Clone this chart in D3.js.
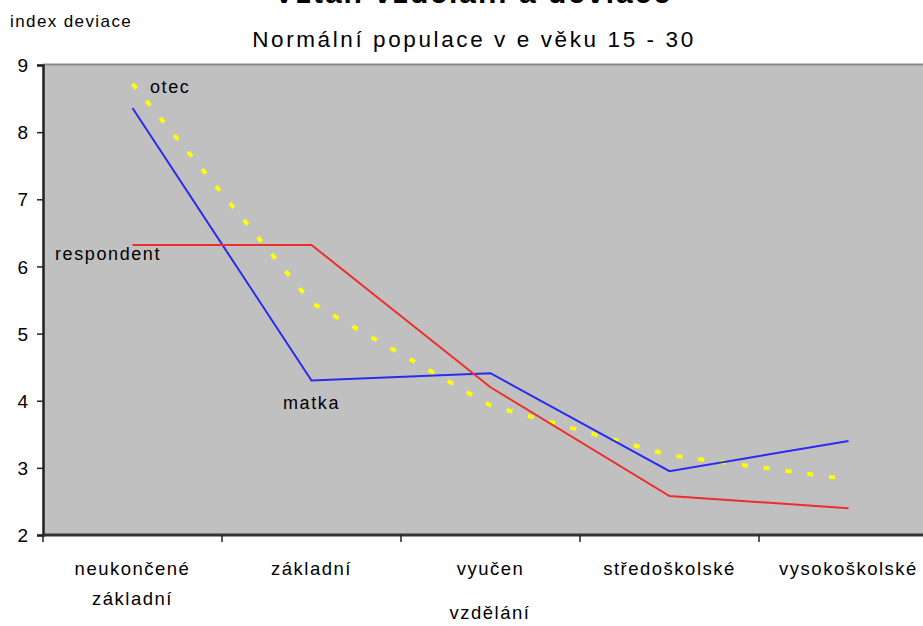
<!DOCTYPE html>
<html>
<head>
<meta charset="utf-8">
<script src="https://cdn.jsdelivr.net/npm/d3@7"></script>
<style>
  body { margin: 0; background: #fff; }
  svg text { font-family: "Liberation Sans", Arial, sans-serif; fill: #000; }
</style>
</head>
<body>
<div id="graphic"></div>
<script>
var width = 923;
var height = 626;

// data
var categories = ["neukončené základní", "základní", "vyučen", "středoškolské", "vysokoškolské"];
var respondent = [6.32, 6.32, 4.2, 2.58, 2.4];
var matka = [8.36, 4.3, 4.41, 2.95, 3.4];
var otec = [8.72, 5.46, 3.93, 3.19, 2.83];
var yTicks = [2, 3, 4, 5, 6, 7, 8, 9];

var series = [
  {name: "otec", values: otec, color: "#ffff00", width: 4, dash: "6,16", label: [150, 87]},
  {name: "matka", values: matka, color: "#2a2af0", width: 2, dash: null, label: [283, 403]},
  {name: "respondent", values: respondent, color: "#ee2d2d", width: 2, dash: null, label: [55, 254]}
];

var svg = d3.select("#graphic")
  .append("svg")
  .attr("width", width)
  .attr("height", height);

var x = d3.scaleBand()
  .domain(categories)
  .range([43, 938])
  .padding(0);

var y = d3.scaleLinear()
  .domain([2, 9])
  .range([535, 65]);

// plot area
svg.append("rect")
  .attr("x", x.range()[0])
  .attr("y", y(9))
  .attr("width", x.range()[1] - x.range()[0])
  .attr("height", y(2) - y(9))
  .attr("fill", "#c0c0c0");

svg.append("line")
  .attr("x1", x.range()[0]).attr("x2", x.range()[1])
  .attr("y1", y(9) - 0.5).attr("y2", y(9) - 0.5)
  .attr("stroke", "#8a8a8a").attr("stroke-width", 2);

// lines
var line = d3.line()
  .x(function(d, i) { return x(categories[i]) + x.bandwidth() / 2; })
  .y(function(d) { return y(d); });

series.forEach(function(s) {
  svg.append("path")
    .attr("d", line(s.values))
    .attr("fill", "none")
    .attr("stroke", s.color)
    .attr("stroke-width", s.width)
    .attr("stroke-dasharray", s.dash);

  svg.append("text")
    .attr("x", s.label[0])
    .attr("y", s.label[1])
    .attr("dy", "0.35em")
    .style("font-size", "18px")
    .style("letter-spacing", "1.6px")
    .text(s.name);
});

// y axis
var yAxis = svg.append("g")
  .attr("transform", "translate(43,0)")
  .call(d3.axisLeft(y).tickValues(yTicks).tickSize(6).tickPadding(9).tickFormat(d3.format("d")));
yAxis.select(".domain").attr("stroke", "#222").attr("stroke-width", 2.5);
yAxis.selectAll(".tick line").attr("stroke", "#222").attr("stroke-width", 1.5);
yAxis.selectAll("text")
  .style("font-size", "19px")
  .style("font-family", "Liberation Sans, Arial, sans-serif")
  .attr("dy", "0.35em");

// x axis
svg.append("line")
  .attr("x1", 42).attr("x2", 938)
  .attr("y1", 535).attr("y2", 535)
  .attr("stroke", "#333").attr("stroke-width", 3);

svg.selectAll(".xtick")
  .data(categories)
  .enter().append("line")
  .attr("class", "xtick")
  .attr("x1", function(d) { return x(d); })
  .attr("x2", function(d) { return x(d); })
  .attr("y1", 535).attr("y2", 542)
  .attr("stroke", "#222").attr("stroke-width", 1.5);

var xl = svg.selectAll(".xlabel")
  .data(categories)
  .enter().append("text")
  .attr("class", "xlabel")
  .attr("text-anchor", "middle")
  .style("font-size", "18.5px")
  .style("letter-spacing", "1.5px");

xl.each(function(d) {
  var t = d3.select(this);
  d.split(" ").forEach(function(w, i) {
    t.append("tspan")
      .attr("x", x(d) + x.bandwidth() / 2)
      .attr("y", 575 + i * 30)
      .text(w);
  });
});

svg.append("text")
  .attr("x", 490)
  .attr("y", 619)
  .attr("text-anchor", "middle")
  .style("font-size", "18.5px")
  .style("letter-spacing", "1.5px")
  .text("vzdělání");

// titles
svg.append("text")
  .attr("x", 473)
  .attr("y", 3)
  .attr("text-anchor", "middle")
  .style("font-size", "30px")
  .style("font-weight", "bold")
  .style("letter-spacing", "2px")
  .text("Vztah vzdělání a deviace");

svg.append("text")
  .attr("x", 474)
  .attr("y", 47)
  .attr("text-anchor", "middle")
  .style("font-size", "22.5px")
  .style("letter-spacing", "2.6px")
  .text("Normální populace v e věku 15 - 30");

svg.append("text")
  .attr("x", 10)
  .attr("y", 27)
  .style("font-size", "17px")
  .style("letter-spacing", "1.4px")
  .text("index deviace");
</script>
</body>
</html>
